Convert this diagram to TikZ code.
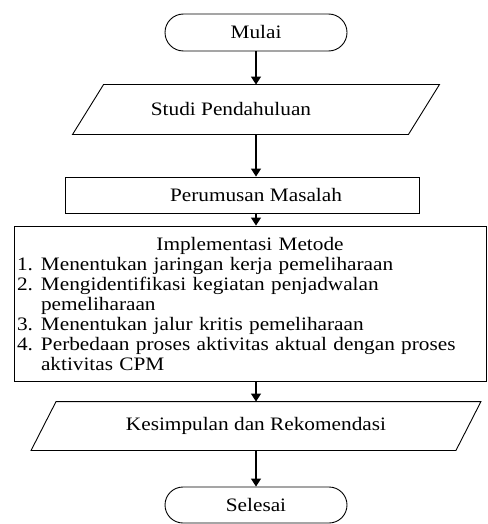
\documentclass[tikz,border=0pt]{standalone}
\usepackage{fontspec}
\setmainfont[FakeStretch=1.12]{Liberation Serif}
\usetikzlibrary{shapes.misc,arrows.meta}
\tikzset{
  base/.style={font=\fontsize{19}{20}\selectfont, line width=0.9pt, inner sep=0pt},
  term/.style={base, draw, rounded rectangle, minimum width=182pt},
  boxr/.style={base, draw, rectangle},
  paratext/.style={base, rectangle},
  paraline/.style={line width=0.9pt},
  arr/.style={line width=1.2pt, -{Triangle[length=8pt,width=10pt]}},
}
\begin{document}
\begin{tikzpicture}[x=1pt,y=-1pt]
\useasboundingbox (0,0) rectangle (487,524);
% Mulai
\node[term, minimum height=37pt] (mulai) at (256,32.5) {Mulai};
% Studi Pendahuluan (parallelogram)
\node[paratext, minimum width=335pt, minimum height=49pt] (studi) at (256,109.5) {Studi Pendahuluan\hspace*{50pt}};
\draw[paraline] ([xshift=15.5pt]studi.north west) -- ([xshift=15.5pt]studi.north east)
  -- ([xshift=-15.5pt]studi.south east) -- ([xshift=-15.5pt]studi.south west) -- cycle;
% Perumusan Masalah
\node[boxr, minimum width=354pt, minimum height=36pt] (perumusan) at (242,195) {\hspace*{28pt}Perumusan Masalah};
% Implementasi Metode
\node[boxr, minimum width=472pt, minimum height=155pt, text width=466pt, align=left, inner xsep=3pt] (impl) at (250,303.5)
{\makebox[466pt][c]{Implementasi Metode}\\
\makebox[24pt][l]{1.}Menentukan jaringan kerja pemeliharaan\\
\makebox[24pt][l]{2.}Mengidentifikasi kegiatan penjadwalan\\
\hspace*{24pt}pemeliharaan\\
\makebox[24pt][l]{3.}Menentukan jalur kritis pemeliharaan\\
\makebox[24pt][l]{4.}Perbedaan proses aktivitas aktual dengan proses\\
\hspace*{24pt}aktivitas CPM};
% Kesimpulan dan Rekomendasi (parallelogram)
\node[paratext, minimum width=424pt, minimum height=48pt] (kesimpulan) at (256,426) {\raisebox{-2pt}{Kesimpulan dan Rekomendasi}};
\draw[paraline] ([xshift=12.5pt]kesimpulan.north west) -- ([xshift=12.5pt]kesimpulan.north east)
  -- ([xshift=-12.5pt]kesimpulan.south east) -- ([xshift=-12.5pt]kesimpulan.south west) -- cycle;
% Selesai
\node[term, minimum height=36pt] (selesai) at (256,505) {Selesai};
% arrows
\draw[arr] (mulai.south) -- (studi.north);
\draw[arr] (studi.south) -- (perumusan.north -| studi.south);
\draw[arr] (perumusan.south -| mulai.south) -- (impl.north -| mulai.south);
\draw[arr] (impl.south -| mulai.south) -- (kesimpulan.north);
\draw[arr] (kesimpulan.south) -- (selesai.north);
\end{tikzpicture}
\end{document}
